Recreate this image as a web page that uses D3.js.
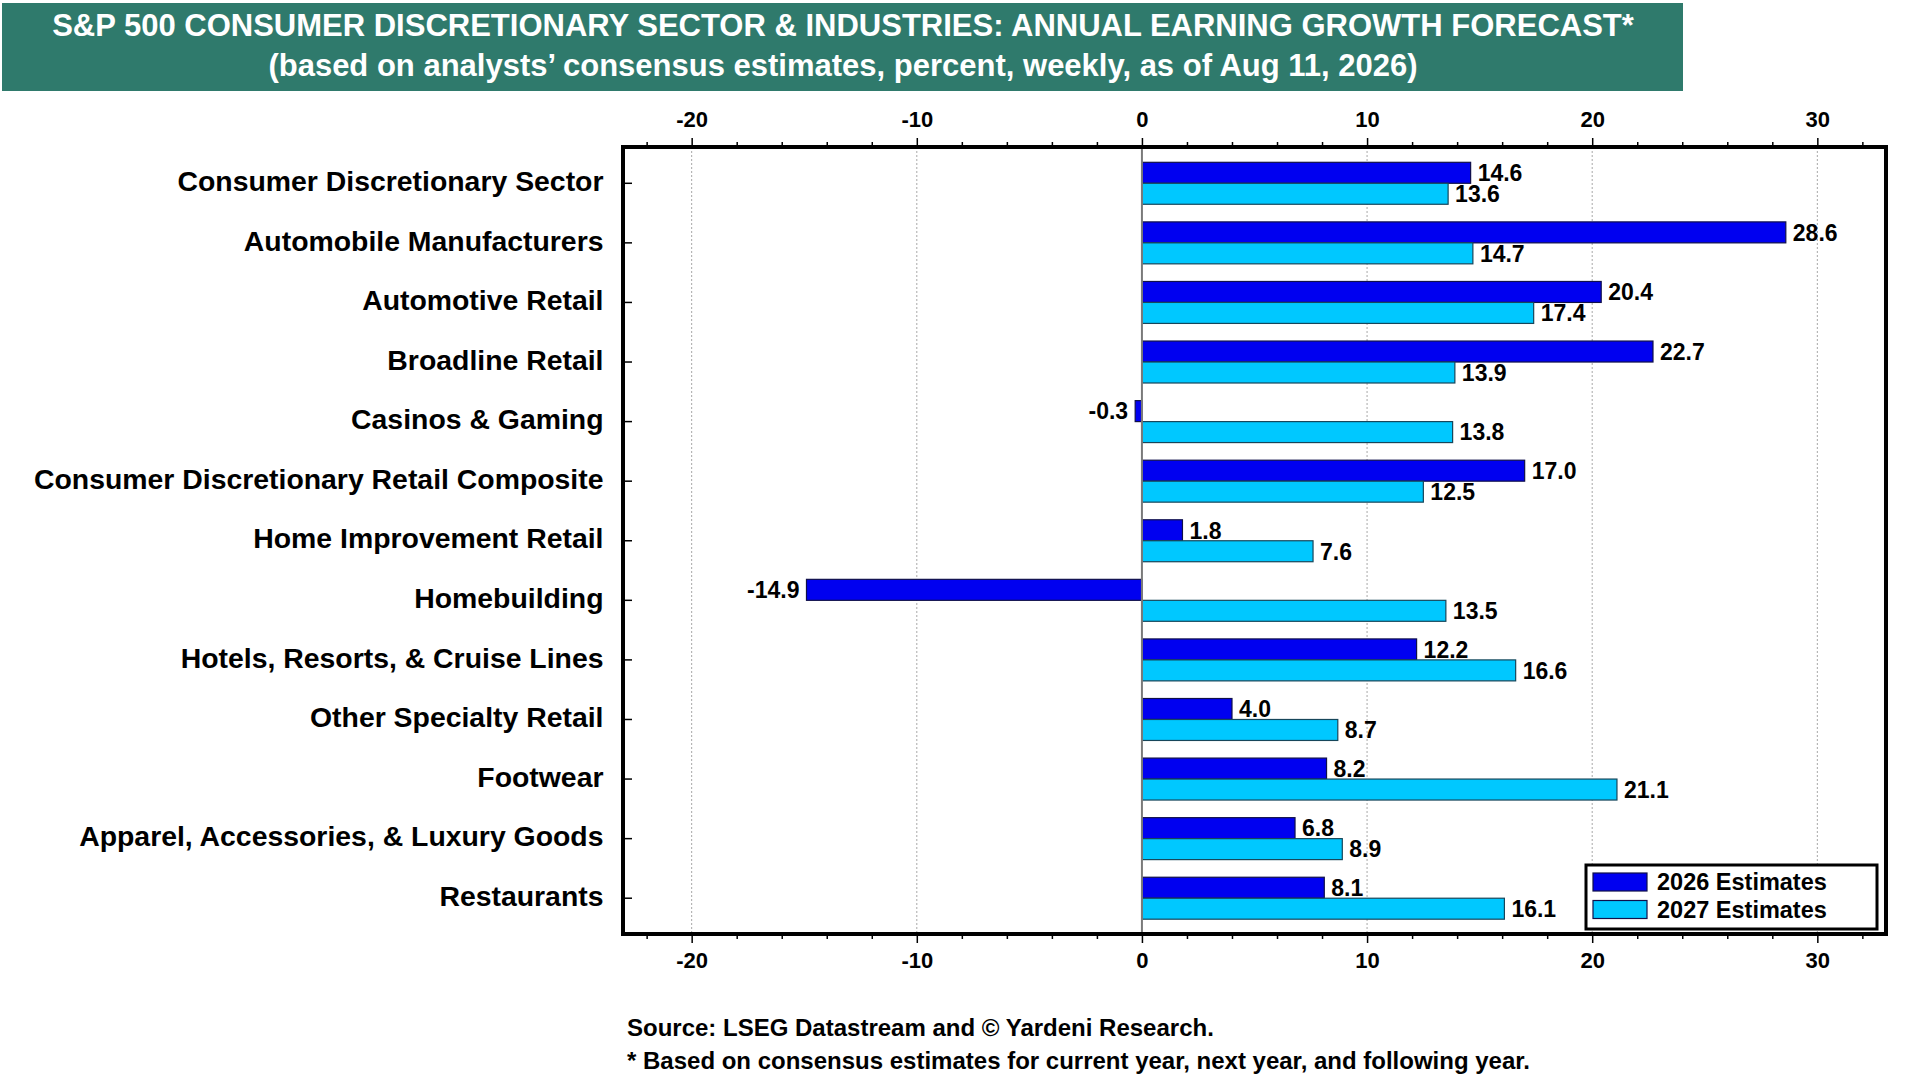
<!DOCTYPE html>
<html>
<head>
<meta charset="utf-8">
<script src="https://cdn.jsdelivr.net/npm/d3@7"></script>
<style>
  html, body { margin: 0; padding: 0; background: #fff; }
  svg { display: block; font-family: "Liberation Sans", Arial, sans-serif; font-weight: bold; }
</style>
</head>
<body>
<div id="chart"></div>
<script>
const categories = [
    "Consumer Discretionary Sector",
    "Automobile Manufacturers",
    "Automotive Retail",
    "Broadline Retail",
    "Casinos & Gaming",
    "Consumer Discretionary Retail Composite",
    "Home Improvement Retail",
    "Homebuilding",
    "Hotels, Resorts, & Cruise Lines",
    "Other Specialty Retail",
    "Footwear",
    "Apparel, Accessories, & Luxury Goods",
    "Restaurants"
];
const est2026 = [14.6, 28.6, 20.4, 22.7, -0.3, 17.0, 1.8, -14.9, 12.2, 4.0, 8.2, 6.8, 8.1];
const est2027 = [13.6, 14.7, 17.4, 13.9, 13.8, 12.5, 7.6, 13.5, 16.6, 8.7, 21.1, 8.9, 16.1];
const seriesNames = ["2026 Estimates", "2027 Estimates"];
const majorTicks = [-20, -10, 0, 10, 20, 30];
const minorTicks = [-22, -18, -16, -14, -12, -8, -6, -4, -2, 2, 4, 6, 8, 12, 14, 16, 18, 22, 24, 26, 28, 32];

const drawChart = () => {
    const W = 1920, H = 1080;
    const plot = { left: 623, right: 1886, top: 147, bottom: 934 };
    const colors = ["#0000f0", "#00c8ff"];

    const svg = d3.select("#chart")
        .append("svg")
        .attr("width", W)
        .attr("height", H);

    svg.append("rect").attr("width", W).attr("height", H).attr("fill", "#fff");

    // Title band
    svg.append("rect")
        .attr("x", 2).attr("y", 3)
        .attr("width", 1681).attr("height", 88)
        .attr("fill", "#2f7a6c");

    svg.append("text")
        .attr("x", 843).attr("y", 36)
        .attr("text-anchor", "middle")
        .attr("fill", "#fff")
        .attr("font-size", "31px")
        .text("S&P 500 CONSUMER DISCRETIONARY SECTOR & INDUSTRIES: ANNUAL EARNING GROWTH FORECAST*");

    svg.append("text")
        .attr("x", 843).attr("y", 76)
        .attr("text-anchor", "middle")
        .attr("fill", "#fff")
        .attr("font-size", "31px")
        .text("(based on analysts\u2019 consensus estimates, percent, weekly, as of Aug 11, 2026)");

    // Scales
    const x = d3.scaleLinear().domain([-23.05, 33.05]).range([plot.left, plot.right]);
    const y = d3.scaleBand().domain(categories).range([plot.top + 6.5, plot.bottom - 6]);
    const ySub = d3.scaleBand().domain(seriesNames).range([0, y.bandwidth()]).paddingOuter(0.42);

    // Gridlines
    svg.append("g")
        .selectAll("line")
        .data(majorTicks.filter(d => d !== 0))
        .join("line")
        .attr("x1", d => x(d)).attr("x2", d => x(d))
        .attr("y1", plot.top).attr("y2", plot.bottom)
        .attr("stroke", "#a8a8a8")
        .attr("stroke-width", 1)
        .attr("stroke-dasharray", "2,2");

    // Bars
    const rows = categories.map((c, i) => ({ cat: c, values: [est2026[i], est2027[i]] }));

    const group = svg.append("g")
        .selectAll("g")
        .data(rows)
        .join("g")
        .attr("transform", d => `translate(0,${y(d.cat)})`);

    group.selectAll("rect")
        .data(d => d.values.map((v, k) => ({ v, k })))
        .join("rect")
        .attr("x", d => x(Math.min(0, d.v)))
        .attr("y", d => ySub(seriesNames[d.k]))
        .attr("width", d => Math.abs(x(d.v) - x(0)))
        .attr("height", ySub.bandwidth())
        .attr("fill", d => colors[d.k])
        .attr("stroke", d => d.k === 0 ? "#10104a" : "#17465a")
        .attr("stroke-width", 1.2);

    group.selectAll("text")
        .data(d => d.values.map((v, k) => ({ v, k })))
        .join("text")
        .attr("x", d => d.v < 0 ? x(d.v) - 7 : x(d.v) + 7)
        .attr("y", d => ySub(seriesNames[d.k]) + ySub.bandwidth() / 2)
        .attr("dy", "0.36em")
        .attr("text-anchor", d => d.v < 0 ? "end" : "start")
        .attr("font-size", "23px")
        .attr("fill", "#000")
        .text(d => d.v.toFixed(1));

    // Zero line
    svg.append("line")
        .attr("x1", x(0)).attr("x2", x(0))
        .attr("y1", plot.top).attr("y2", plot.bottom)
        .attr("stroke", "#7a7a7a")
        .attr("stroke-width", 2);

    // Top and bottom axes
    const fmt = d => String(d);
    const axisTopMajor = d3.axisTop(x).tickValues(majorTicks).tickSize(9).tickFormat(fmt);
    const axisBottomMajor = d3.axisBottom(x).tickValues(majorTicks).tickSize(9).tickFormat(fmt);
    const axisTopMinor = d3.axisTop(x).tickValues(minorTicks).tickSize(5).tickFormat("");
    const axisBottomMinor = d3.axisBottom(x).tickValues(minorTicks).tickSize(5).tickFormat("");

    const styleAxis = g => {
        g.select(".domain").remove();
        g.selectAll("line").attr("stroke", "#000").attr("stroke-width", 1.5);
        g.selectAll("text")
            .attr("fill", "#000")
            .attr("font-size", "22px")
            .attr("font-family", "\"Liberation Sans\", Arial, sans-serif")
            .attr("font-weight", "bold");
    };

    svg.append("g").attr("transform", `translate(0,${plot.top})`).call(axisTopMinor).call(styleAxis);
    svg.append("g").attr("transform", `translate(0,${plot.bottom})`).call(axisBottomMinor).call(styleAxis);

    const topAxis = svg.append("g").attr("transform", `translate(0,${plot.top})`).call(axisTopMajor).call(styleAxis);
    topAxis.selectAll("text").attr("y", -20).attr("dy", 0);

    const bottomAxis = svg.append("g").attr("transform", `translate(0,${plot.bottom})`).call(axisBottomMajor).call(styleAxis);
    bottomAxis.selectAll("text").attr("y", 34).attr("dy", 0);

    // Category axis (ticks point inward)
    const yAxis = d3.axisRight(y).tickSize(9).tickFormat("");
    svg.append("g")
        .attr("transform", `translate(${plot.left},0)`)
        .call(yAxis)
        .call(g => g.select(".domain").remove())
        .call(g => g.selectAll("line").attr("stroke", "#000").attr("stroke-width", 1.5));

    svg.append("g")
        .selectAll("text")
        .data(categories)
        .join("text")
        .attr("x", 603.5)
        .attr("y", d => y(d) + y.bandwidth() / 2 - 2.5)
        .attr("dy", "0.36em")
        .attr("text-anchor", "end")
        .attr("font-size", "28.4px")
        .attr("fill", "#000")
        .text(d => d);

    // Plot frame
    svg.append("rect")
        .attr("x", plot.left).attr("y", plot.top)
        .attr("width", plot.right - plot.left)
        .attr("height", plot.bottom - plot.top)
        .attr("fill", "none")
        .attr("stroke", "#000")
        .attr("stroke-width", 4);

    // Legend
    const legend = svg.append("g").attr("transform", "translate(1586,865)");
    legend.append("rect")
        .attr("width", 291).attr("height", 64)
        .attr("fill", "#fff")
        .attr("stroke", "#000")
        .attr("stroke-width", 3);

    const item = legend.selectAll("g")
        .data(seriesNames)
        .join("g")
        .attr("transform", (d, i) => `translate(7,${8 + i * 27.5})`);

    item.append("rect")
        .attr("width", 54).attr("height", 18)
        .attr("fill", (d, i) => colors[i])
        .attr("stroke", "#10104a")
        .attr("stroke-width", 1.2);

    item.append("text")
        .attr("x", 64).attr("y", 9)
        .attr("dy", "0.36em")
        .attr("font-size", "23.5px")
        .attr("fill", "#000")
        .text(d => d);

    // Source notes
    svg.append("text")
        .attr("x", 627).attr("y", 1036)
        .attr("font-size", "24px")
        .attr("fill", "#000")
        .text("Source: LSEG Datastream and \u00a9 Yardeni Research.");

    svg.append("text")
        .attr("x", 627).attr("y", 1069)
        .attr("font-size", "24px")
        .attr("fill", "#000")
        .text("* Based on consensus estimates for current year, next year, and following year.");
};

document.addEventListener("DOMContentLoaded", drawChart);
</script>
</body>
</html>
